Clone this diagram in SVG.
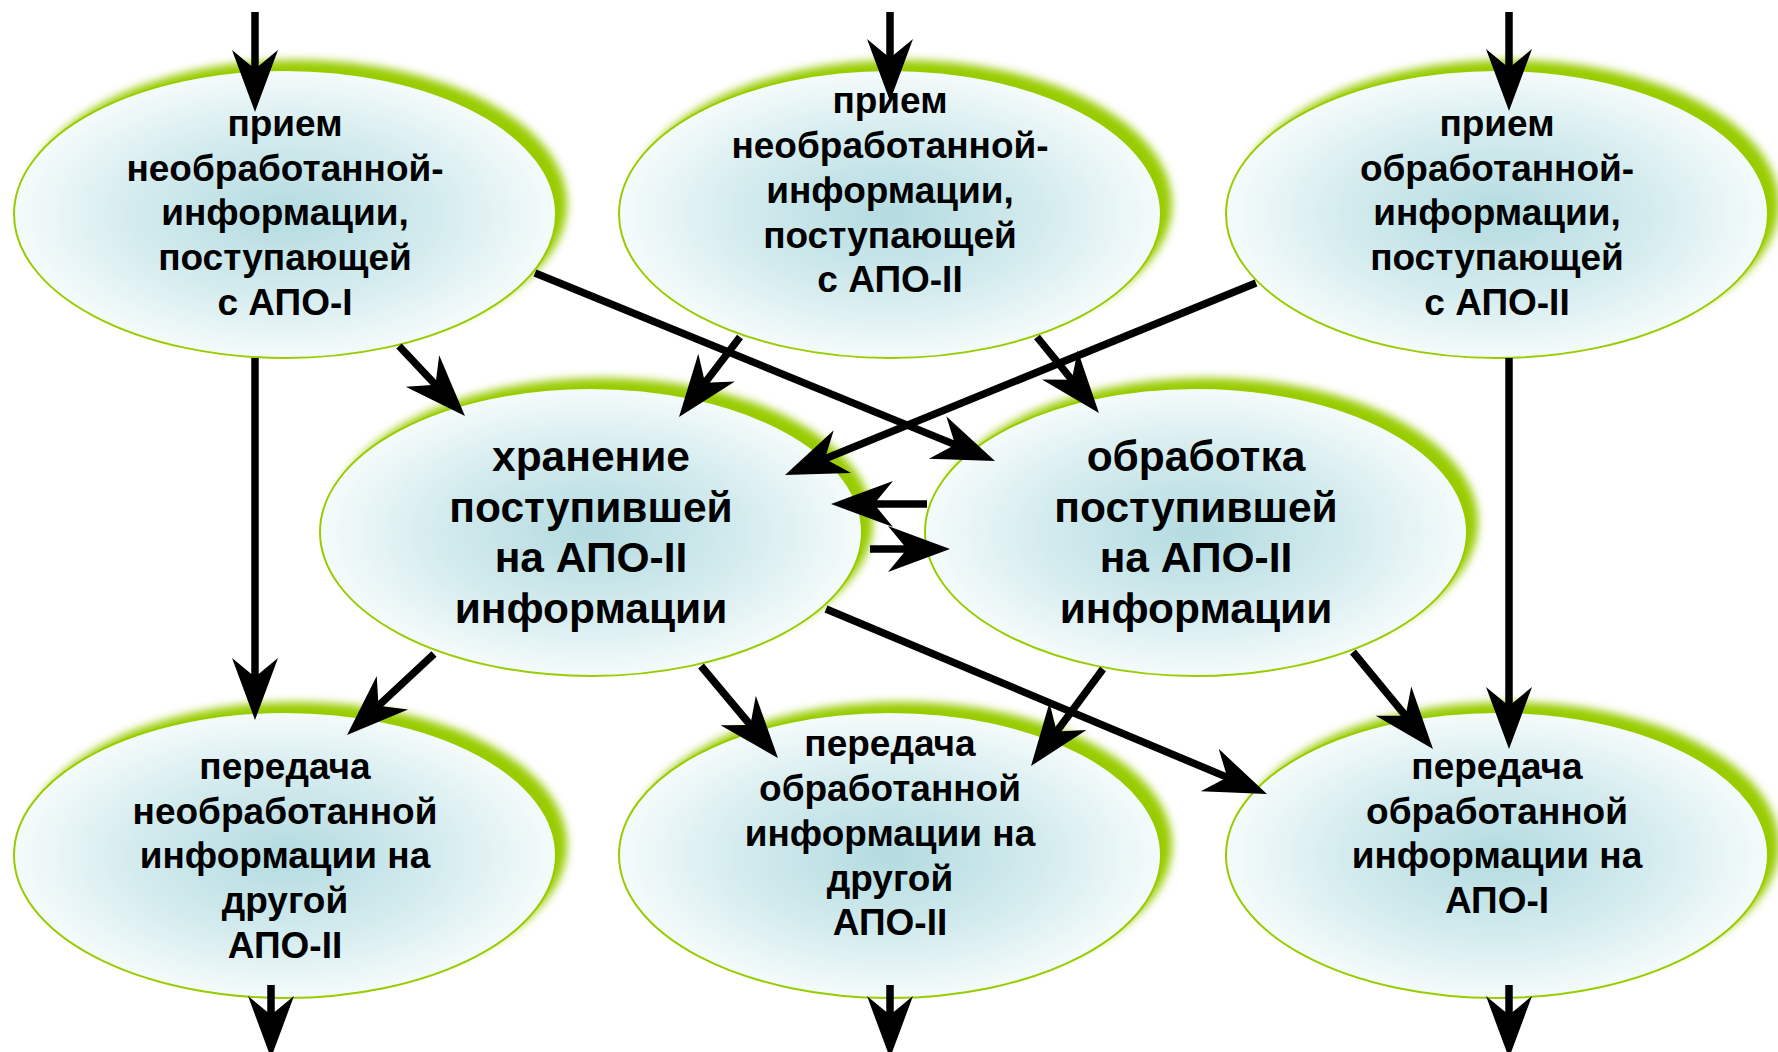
<svg xmlns="http://www.w3.org/2000/svg" width="1778" height="1052" viewBox="0 0 1778 1052">
  <style>
    .glow { fill: #99cc00; filter: url(#soft); }
    .body { fill: url(#fillGrad); stroke: #99cc00; stroke-width: 2; }
    .t { font-family: "Liberation Sans", Arial, sans-serif; font-weight: bold; font-size: 37px; fill: #000; text-anchor: middle; }
    .tm { font-size: 42.5px; }
    .conn line { stroke: #000; stroke-width: 7.5; marker-end: url(#arrow); }
  </style>
  <defs>
    <radialGradient id="fillGrad" cx="50%" cy="50%" r="50%">
      <stop offset="0" stop-color="#b3dbe0"/>
      <stop offset="0.55" stop-color="#d3ebee"/>
      <stop offset="1" stop-color="#f5fbfb"/>
    </radialGradient>
    <filter id="soft" x="-10%" y="-15%" width="120%" height="130%">
      <feGaussianBlur stdDeviation="4"/>
    </filter>
    <marker id="arrow" markerUnits="userSpaceOnUse" markerWidth="70" markerHeight="52" refX="34" refY="25" orient="auto" overflow="visible">
      <path d="M64,25 L2,2 L21,25 L2,48 Z" fill="#000"/>
    </marker>
  </defs>

  <!-- top row -->
  <g id="recv-raw-apo1">
    <ellipse class="glow" cx="296" cy="204" rx="271" ry="144"/>
    <ellipse class="body" cx="285" cy="214" rx="271" ry="144"/>
    <text class="t" x="285" y="136">прием</text>
    <text class="t" x="285" y="181">необработанной-</text>
    <text class="t" x="285" y="225">информации,</text>
    <text class="t" x="285" y="270">поступающей</text>
    <text class="t" x="285" y="315">с АПО-I</text>
  </g>
  <g id="recv-raw-apo2">
    <ellipse class="glow" cx="901" cy="204" rx="271" ry="144"/>
    <ellipse class="body" cx="890" cy="214" rx="271" ry="144"/>
    <text class="t" x="890" y="113">прием</text>
    <text class="t" x="890" y="158">необработанной-</text>
    <text class="t" x="890" y="203">информации,</text>
    <text class="t" x="890" y="248">поступающей</text>
    <text class="t" x="890" y="292">с АПО-II</text>
  </g>
  <g id="recv-processed-apo2">
    <ellipse class="glow" cx="1508" cy="204" rx="271" ry="144"/>
    <ellipse class="body" cx="1497" cy="214" rx="271" ry="144"/>
    <text class="t" x="1497" y="136">прием</text>
    <text class="t" x="1497" y="181">обработанной-</text>
    <text class="t" x="1497" y="225">информации,</text>
    <text class="t" x="1497" y="270">поступающей</text>
    <text class="t" x="1497" y="315">с АПО-II</text>
  </g>

  <!-- middle row -->
  <g id="storage">
    <ellipse class="glow" cx="602" cy="522" rx="271" ry="144"/>
    <ellipse class="body" cx="591" cy="532" rx="271" ry="144"/>
    <text class="t tm" x="591" y="471">хранение</text>
    <text class="t tm" x="591" y="522">поступившей</text>
    <text class="t tm" x="591" y="572">на АПО-II</text>
    <text class="t tm" x="591" y="623">информации</text>
  </g>
  <g id="processing">
    <ellipse class="glow" cx="1207" cy="522" rx="271" ry="144"/>
    <ellipse class="body" cx="1196" cy="532" rx="271" ry="144"/>
    <text class="t tm" x="1196" y="471">обработка</text>
    <text class="t tm" x="1196" y="522">поступившей</text>
    <text class="t tm" x="1196" y="572">на АПО-II</text>
    <text class="t tm" x="1196" y="623">информации</text>
  </g>

  <!-- bottom row -->
  <g id="send-raw-apo2">
    <ellipse class="glow" cx="296" cy="845" rx="271" ry="143"/>
    <ellipse class="body" cx="285" cy="855" rx="271" ry="143"/>
    <text class="t" x="285" y="779">передача</text>
    <text class="t" x="285" y="824">необработанной</text>
    <text class="t" x="285" y="868">информации на</text>
    <text class="t" x="285" y="913">другой</text>
    <text class="t" x="285" y="958">АПО-II</text>
  </g>
  <g id="send-processed-apo2">
    <ellipse class="glow" cx="901" cy="845" rx="271" ry="143"/>
    <ellipse class="body" cx="890" cy="855" rx="271" ry="143"/>
    <text class="t" x="890" y="756">передача</text>
    <text class="t" x="890" y="801">обработанной</text>
    <text class="t" x="890" y="846">информации на</text>
    <text class="t" x="890" y="891">другой</text>
    <text class="t" x="890" y="935">АПО-II</text>
  </g>
  <g id="send-processed-apo1">
    <ellipse class="glow" cx="1508" cy="845" rx="271" ry="143"/>
    <ellipse class="body" cx="1497" cy="855" rx="271" ry="143"/>
    <text class="t" x="1497" y="779">передача</text>
    <text class="t" x="1497" y="824">обработанной</text>
    <text class="t" x="1497" y="868">информации на</text>
    <text class="t" x="1497" y="913">АПО-I</text>
  </g>

  <!-- connectors: each line stops inside its arrowhead -->
  <g id="connectors" class="conn">
    <line x1="255" y1="12" x2="255" y2="82"/>
    <line x1="890" y1="12" x2="890" y2="71"/>
    <line x1="1509" y1="12" x2="1509" y2="81"/>
    <line x1="271" y1="985" x2="271" y2="1028"/>
    <line x1="890" y1="985" x2="890" y2="1028"/>
    <line x1="1509" y1="985" x2="1509" y2="1028"/>
    <line x1="255" y1="358" x2="255" y2="690"/>
    <line x1="1509" y1="358" x2="1509" y2="719"/>
    <line x1="399" y1="346" x2="444.4" y2="394.2"/>
    <line x1="535" y1="273" x2="967.2" y2="449.6"/>
    <line x1="740" y1="337" x2="697.2" y2="393.1"/>
    <line x1="1037" y1="337" x2="1080" y2="389.8"/>
    <line x1="1256" y1="283" x2="812.8" y2="463.7"/>
    <line x1="927" y1="504" x2="861" y2="504"/>
    <line x1="870" y1="549" x2="920" y2="549"/>
    <line x1="434" y1="654" x2="369" y2="714.6"/>
    <line x1="701" y1="666" x2="758.7" y2="735"/>
    <line x1="826" y1="609" x2="1239.3" y2="782.4"/>
    <line x1="1103" y1="669" x2="1048.9" y2="741.9"/>
    <line x1="1353" y1="652" x2="1413.9" y2="725.8"/>
  </g>
</svg>
